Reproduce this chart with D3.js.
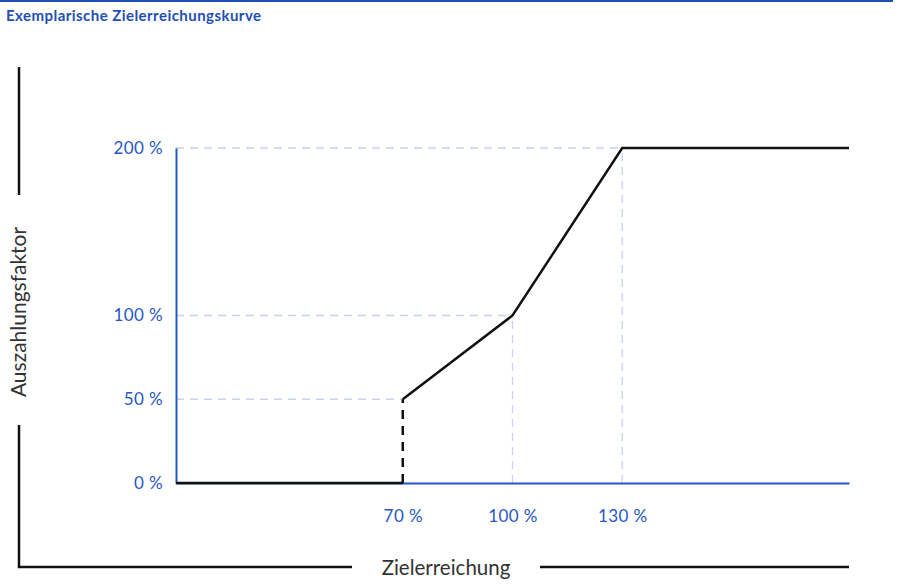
<!DOCTYPE html>
<html><head><meta charset="utf-8">
<script src="https://cdn.jsdelivr.net/npm/d3@7"></script>
<style>body{margin:0;background:#fff}svg{display:block}</style>
</head><body>
<svg id="c" width="900" height="585"></svg>
<script>
const title = "Exemplarische Zielerreichungskurve";
const xTitle = "Zielerreichung";
const yTitle = "Auszahlungsfaktor";
const xTicks = [70, 100, 130];
const yTicks = [0, 50, 100, 200];
const xDomain = [8, 192];
const yDomain = [0, 200];
// curve segments
const solidLow = [[8, 0], [70, 0]];
const jump = [[70, 0], [70, 50]];
const solidHigh = [[70, 50], [100, 100], [130, 200], [192, 200]];
const guidePoints = [[70, 50], [100, 100], [130, 200]];

const svg = d3.select("#c");
const font = "Lato, 'Open Sans', sans-serif";
const blue = "#2457c5";
const x = d3.scaleLinear().domain(xDomain).range([176, 849]);
const y = d3.scaleLinear().domain(yDomain).range([483, 148]);

svg.append("line").attr("x1", 0).attr("x2", 893).attr("y1", 1).attr("y2", 1)
  .attr("stroke", "#1f4fb5").attr("stroke-width", 2);
svg.append("text").attr("x", 6).attr("y", 21).text(title)
  .attr("font-family", font).attr("font-weight", "bold").attr("font-size", 15)
  .attr("letter-spacing", 0.45).attr("fill", "#1f4fb5");

// guides
const g = svg.append("g");
guidePoints.forEach(([a, b]) => {
  g.append("line").attr("x1", x(xDomain[0])).attr("x2", x(a)).attr("y1", y(b)).attr("y2", y(b))
    .attr("stroke", "#c9d3ef").attr("stroke-width", 1.3).attr("stroke-dasharray", "8,6");
  if (a !== 70) g.append("line").attr("x1", x(a)).attr("x2", x(a)).attr("y1", y(0)).attr("y2", y(b))
    .attr("stroke", "#c9d3ef").attr("stroke-width", 1.3).attr("stroke-dasharray", "8,6");
});

// axes
const xAxis = d3.axisBottom(x).tickValues(xTicks).tickSize(0).tickPadding(27).tickFormat(d => d + " %");
const yAxis = d3.axisLeft(y).tickValues(yTicks).tickSize(0).tickPadding(13).tickFormat(d => d + " %");
const gx = svg.append("g").attr("transform", `translate(0,${y(0)})`).call(xAxis);
const gy = svg.append("g").attr("transform", `translate(${x(xDomain[0])},0)`).call(yAxis);
[gx, gy].forEach(a => {
  a.select(".domain").attr("stroke", blue).attr("stroke-width", 2);
  a.selectAll("text").attr("font-family", font).attr("font-size", 17)
    .attr("letter-spacing", 0.4).attr("fill", blue);
});

const line = d3.line().x(d => x(d[0])).y(d => y(d[1]));
svg.append("path").attr("d", line(solidLow)).attr("fill", "none").attr("stroke", "#111").attr("stroke-width", 2.5);
svg.append("path").attr("d", line(jump)).attr("fill", "none").attr("stroke", "#111").attr("stroke-width", 2.5)
  .attr("stroke-dasharray", "9,7");
svg.append("path").attr("d", line(solidHigh)).attr("fill", "none").attr("stroke", "#111").attr("stroke-width", 2.5)
  .attr("stroke-linejoin", "miter");

// axis title frames
const fr = svg.append("g").attr("stroke", "#111").attr("stroke-width", 2.5).attr("fill", "none");
fr.append("path").attr("d", "M19,67V195");
fr.append("path").attr("d", "M19,425V567H352");
fr.append("path").attr("d", "M540,567H849");
svg.append("text").attr("x", 446).attr("y", 575).attr("text-anchor", "middle").text(xTitle)
  .attr("font-family", font).attr("font-size", 20.5).attr("fill", "#333");
svg.append("text").attr("transform", "translate(26,312) rotate(-90)").attr("text-anchor", "middle").text(yTitle)
  .attr("font-family", font).attr("font-size", 21).attr("fill", "#333");
</script>
</body></html>
